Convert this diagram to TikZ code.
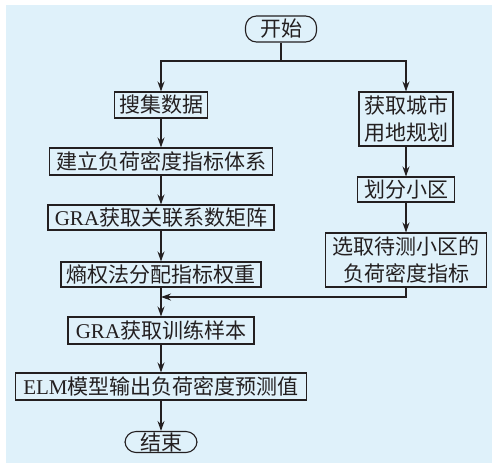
\documentclass[tikz,border=0pt]{standalone}
\usepackage{fontspec}
\setmainfont{Liberation Serif}
\newfontfamily\cjk{Noto Sans CJK SC}
\usetikzlibrary{arrows.meta}
\definecolor{bgc}{HTML}{DFF1FA}
\definecolor{lnc}{HTML}{231F20}
\begin{document}
\begin{tikzpicture}[x=1pt,y=-1pt,
  box/.style={draw=lnc, line width=1.1pt, inner sep=0pt, text=lnc,
    font=\fontsize{21}{27}\selectfont\cjk, align=center},
  term/.style={box, rounded corners=11pt},
  arr/.style={draw=lnc, line width=1.1pt, -{Stealth[length=10pt,width=7pt]}},
  link/.style={draw=lnc, line width=1.1pt}]
\useasboundingbox (0,0) rectangle (492,464);
\fill[bgc] (6,5) rectangle (492,463);
\node[term, minimum width=71pt, minimum height=26pt] (start) at (281,29) {开始};
\node[box, minimum width=93pt, minimum height=26pt] (n1) at (161,105) {搜集数据};
\node[box, minimum width=94pt, minimum height=54pt] (r1) at (406,119) {获取城市\\用地规划};
\node[box, minimum width=223pt, minimum height=27pt] (n2) at (161,161.5) {建立负荷密度指标体系};
\node[box, minimum width=97pt, minimum height=25pt] (r2) at (406,189.5) {划分小区};
\node[box, minimum width=226pt, minimum height=25pt] (n3) at (161,217.5) {{\rmfamily GRA}获取关联系数矩阵};
\node[box, minimum width=161pt, minimum height=54pt] (r3) at (406,260) {选取待测小区的\\负荷密度指标};
\node[box, minimum width=200pt, minimum height=25pt] (n4) at (161,274.5) {熵权法分配指标权重};
\node[box, minimum width=186pt, minimum height=27pt] (n5) at (161,330.5) {{\rmfamily GRA}获取训练样本};
\node[box, minimum width=291pt, minimum height=27pt] (n6) at (161,386.5) {{\rmfamily ELM}模型输出负荷密度预测值};
\node[term, minimum width=72pt, minimum height=21pt] (end) at (161,442) {结束};
\coordinate (s) at (281,61);
\coordinate (m) at (161,297);
\draw[link] (start.south) -- (s);
\draw[arr] (s) -| (n1.north);
\draw[arr] (s) -| (r1.north);
\draw[arr] (n1) -- (n2);
\draw[arr] (n2) -- (n3);
\draw[arr] (n3) -- (n4);
\draw[arr] (n4) -- (n5);
\draw[arr] (n5) -- (n6);
\draw[arr] (n6) -- (end);
\draw[arr] (r1) -- (r2);
\draw[arr] (r2) -- (r3);
\draw[arr] (r3.south) |- (m);
\end{tikzpicture}
\end{document}
